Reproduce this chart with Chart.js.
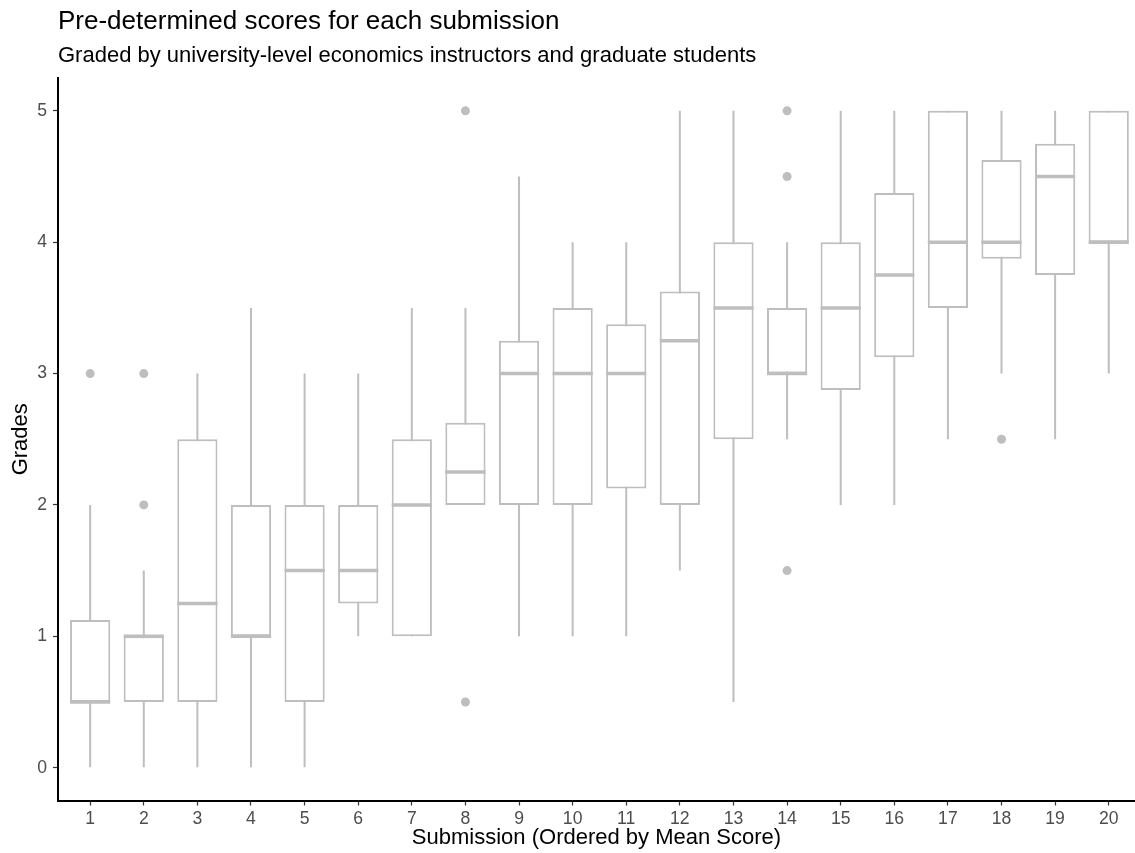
<!DOCTYPE html>
<html>
<head>
<meta charset="utf-8">
<script src="https://cdn.jsdelivr.net/npm/chart.js@4/dist/chart.umd.min.js"></script>
<style>
  body { margin: 0; background: #fff; overflow: hidden; }
  canvas { display: block; }
</style>
</head>
<body>
<canvas id="gradesChart" width="1135" height="853"></canvas>
<script>
// submissions on the x axis, ordered by mean score
const submissions = [1, 2, 3, 4, 5, 6, 7, 8, 9, 10, 11, 12, 13, 14, 15, 16, 17, 18, 19, 20];

// box plot stats
const whiskerLow    = [0, 0, 0, 0, 0, 1, 1, 2, 1, 1, 1, 1.5, 0.5, 2.5, 2, 2, 2.5, 3, 2.5, 3];
const lowerQuartile = [0.5, 0.5, 0.5, 1, 0.5, 1.25, 1, 2, 2, 2, 2.125, 2, 2.5, 3, 2.875, 3.125, 3.5, 3.875, 3.75, 4];
const medians       = [0.5, 1, 1.25, 1, 1.5, 1.5, 2, 2.25, 3, 3, 3, 3.25, 3.5, 3, 3.5, 3.75, 4, 4, 4.5, 4];
const upperQuartile = [1.125, 1, 2.5, 2, 2, 2, 2.5, 2.625, 3.25, 3.5, 3.375, 3.625, 4, 3.5, 4, 4.375, 5, 4.625, 4.75, 5];
const whiskerHigh   = [2, 1.5, 3, 3.5, 3, 3, 3.5, 3.5, 4.5, 4, 4, 5, 5, 4, 5, 5, 5, 5, 5, 5];

// outliers
const outlierSubmission = [1, 2, 2, 8, 8, 14, 14, 14, 18];
const outlierGrades     = [3, 3, 2, 5, 0.5, 5, 4.5, 1.5, 2.5];

const gradeTicks = [0, 1, 2, 3, 4, 5];

const titleText = 'Pre-determined scores for each submission';
const subtitleText = 'Graded by university-level economics instructors and graduate students';

const boxColor = '#bebebe';
const fontFamily = '"Liberation Sans", Arial, Helvetica, sans-serif';

Chart.defaults.font.family = fontFamily;

// median line across each box
const medianLines = {
    id: 'medianLines',
    afterDatasetsDraw(chart) {
        const ctx = chart.ctx;
        const yScale = chart.scales.y;
        const bars = chart.getDatasetMeta(0).data;
        ctx.save();
        ctx.strokeStyle = boxColor;
        ctx.lineWidth = 3.5;
        ctx.lineCap = 'butt';
        bars.forEach((bar, i) => {
            const py = yScale.getPixelForValue(medians[i]);
            ctx.beginPath();
            ctx.moveTo(bar.x - bar.width / 2, py);
            ctx.lineTo(bar.x + bar.width / 2, py);
            ctx.stroke();
        });
        ctx.restore();
    }
};

// left-aligned title + subtitle, lined up with the plot's left edge
const plotTitles = {
    id: 'plotTitles',
    afterDraw(chart) {
        const ctx = chart.ctx;
        const left = chart.chartArea.left;
        ctx.save();
        ctx.fillStyle = '#000';
        ctx.textAlign = 'left';
        ctx.textBaseline = 'alphabetic';
        ctx.font = '26px ' + fontFamily;
        ctx.fillText(titleText, left, 29);
        ctx.font = '22px ' + fontFamily;
        ctx.fillText(subtitleText, left, 62);
        ctx.restore();
    }
};

const ctx = document.getElementById('gradesChart').getContext('2d');
new Chart(ctx, {
    type: 'bar',
    data: {
        datasets: [
            {
                label: 'IQR',
                data: submissions.map((s, i) => ({ x: s, y: [lowerQuartile[i], upperQuartile[i]] })),
                backgroundColor: '#ffffff',
                borderColor: boxColor,
                borderWidth: 2,
                borderSkipped: false,
                inflateAmount: 0,
                barPercentage: 0.75,
                categoryPercentage: 1,
                grouped: false,
                order: 1
            },
            {
                label: 'Whiskers',
                data: submissions.map((s, i) => ({ x: s, y: [whiskerLow[i], whiskerHigh[i]] })),
                backgroundColor: boxColor,
                borderWidth: 0,
                inflateAmount: 0,
                barThickness: 2,
                grouped: false,
                order: 2
            },
            {
                type: 'scatter',
                label: 'Outliers',
                data: outlierSubmission.map((s, i) => ({ x: s, y: outlierGrades[i] })),
                backgroundColor: boxColor,
                borderWidth: 0,
                pointRadius: 4.5,
                order: 0
            }
        ]
    },
    options: {
        responsive: false,
        animation: false,
        layout: { autoPadding: false, padding: { top: 78, left: 0, right: 0, bottom: 0 } },
        plugins: {
            legend: { display: false },
            tooltip: { enabled: false },
            title: { display: false }
        },
        scales: {
            x: {
                type: 'linear',
                min: 0.4,
                max: 20.49,
                offset: false,
                afterBuildTicks: (scale) => { scale.ticks = submissions.map(v => ({ value: v })); },
                afterFit: (scale) => { scale.height = 52.5; },
                grid: { display: true, offset: false, drawOnChartArea: false, drawTicks: true, tickLength: 5, tickColor: '#333333', tickWidth: 1.2 },
                border: { display: true, color: '#000000', width: 2 },
                ticks: { color: '#4d4d4d', font: { size: 17.6 }, padding: 3, maxRotation: 0, autoSkip: false },
                title: { display: true, text: 'Submission (Ordered by Mean Score)', color: '#000', font: { size: 22 }, padding: { top: 0, bottom: 2 } }
            },
            y: {
                min: -0.25,
                max: 5.25,
                afterBuildTicks: (scale) => { scale.ticks = gradeTicks.map(v => ({ value: v })); },
                afterFit: (scale) => { scale.width = 58; },
                grid: { display: true, drawOnChartArea: false, drawTicks: true, tickLength: 5, tickColor: '#333333', tickWidth: 1.2 },
                border: { display: true, color: '#000000', width: 2 },
                ticks: { color: '#4d4d4d', font: { size: 17.6 }, padding: 6 },
                title: { display: true, text: 'Grades', color: '#000', font: { size: 22 }, padding: { top: 8, bottom: 0 } }
            }
        }
    },
    plugins: [medianLines, plotTitles]
});
</script>
</body>
</html>
